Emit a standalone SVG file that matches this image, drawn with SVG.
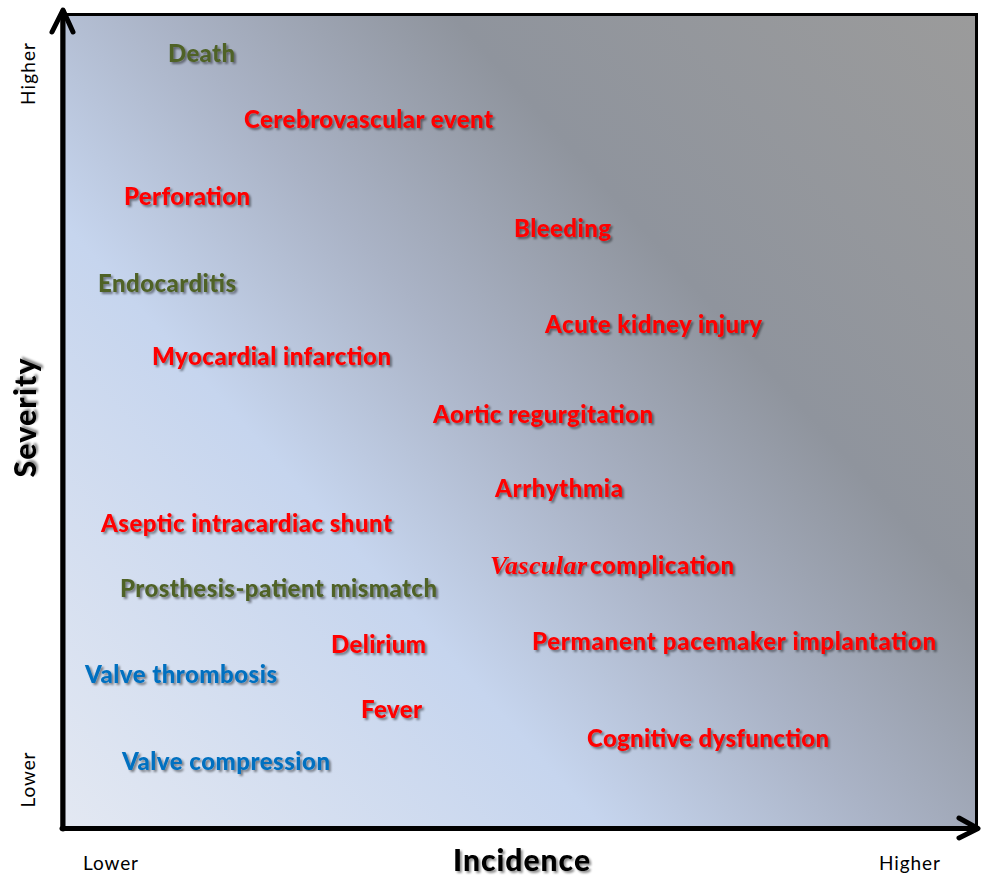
<svg xmlns="http://www.w3.org/2000/svg" width="981" height="877" viewBox="0 0 981 877">
  <defs>
    <linearGradient id="bg" gradientUnits="userSpaceOnUse" x1="62" y1="828" x2="976" y2="14">
      <stop offset="0" stop-color="#e3e8f2"/>
      <stop offset="0.33" stop-color="#c6d5ee"/>
      <stop offset="0.5" stop-color="#aab3c6"/>
      <stop offset="0.68" stop-color="#8f949d"/>
      <stop offset="1" stop-color="#9b9b9b"/>
    </linearGradient>
    <filter id="sh" x="-10%" y="-30%" width="120%" height="160%">
      <feDropShadow dx="2" dy="2" stdDeviation="1.2" flood-color="#000" flood-opacity="0.45"/>
    </filter>
  </defs>
  <style>
    .lbl { font-family: Lato, "Open Sans", "Liberation Sans", sans-serif; font-weight: 900; font-size: 24px; filter: url(#sh); }
    .red { fill: #ff0000; }
    .grn { fill: #4f6228; }
    .blu { fill: #0070c0; }
    .ax { font-family: Lato, "Open Sans", "Liberation Sans", sans-serif; font-weight: 900; font-size: 30px; fill: #000; filter: url(#sh); }
    .tick { font-family: Lato, "Open Sans", "Liberation Sans", sans-serif; font-size: 19px; fill: #000; }
    .axis { stroke: #000; stroke-width: 5; fill: none; stroke-linecap: round; stroke-linejoin: round; }
  </style>
  <rect x="62" y="14" width="914" height="814" fill="url(#bg)"/>
  <rect x="62" y="14.5" width="914.5" height="814" fill="none" stroke="#000" stroke-width="3"/>

  <g id="connectors">
    <g id="axes">
      <path class="axis" d="M63 829 V11"/>
      <path class="axis" d="M52 32 L63 10 L73 32"/>
      <path class="axis" d="M62 828.5 H977"/>
      <path class="axis" d="M959 818 L978 828.5 L959 838"/>
    </g>
  </g>

  <g id="axis-labels">
    <text class="ax" transform="translate(36,418) rotate(-90)" text-anchor="middle" textLength="119">Severity</text>
    <text class="ax" x="453" y="871" textLength="137">Incidence</text>
    <text class="tick" transform="translate(35,74) rotate(-90)" text-anchor="middle" textLength="62">Higher</text>
    <text class="tick" transform="translate(35,780) rotate(-90)" text-anchor="middle" textLength="55">Lower</text>
    <text class="tick" x="83" y="870" textLength="55">Lower</text>
    <text class="tick" x="879" y="870" textLength="61">Higher</text>
  </g>

  <g id="death"><text class="lbl grn" x="168" y="62" textLength="67">Death</text></g>
  <g id="cerebrovascular"><text class="lbl red" x="244" y="128" textLength="249">Cerebrovascular event</text></g>
  <g id="perforation"><text class="lbl red" x="124" y="205" textLength="126">Perforation</text></g>
  <g id="bleeding"><text class="lbl red" x="514" y="237" textLength="97">Bleeding</text></g>
  <g id="endocarditis"><text class="lbl grn" x="98" y="292" textLength="138">Endocarditis</text></g>
  <g id="aki"><text class="lbl red" x="545" y="333" textLength="217">Acute kidney injury</text></g>
  <g id="mi"><text class="lbl red" x="152" y="365" textLength="239">Myocardial infarction</text></g>
  <g id="ar"><text class="lbl red" x="433" y="423" textLength="220">Aortic regurgitation</text></g>
  <g id="arrhythmia"><text class="lbl red" x="495" y="497" textLength="128">Arrhythmia</text></g>
  <g id="shunt"><text class="lbl red" x="101" y="532" textLength="291">Aseptic intracardiac shunt</text></g>
  <g id="vascular">
    <text class="lbl red" x="490" y="574" textLength="97" style="font-family: 'Liberation Serif', 'DejaVu Serif', serif; font-weight: bold; font-style: italic; font-size: 26px;">Vascular</text>
    <text class="lbl red" x="590" y="574" textLength="144">complication</text>
  </g>
  <g id="ppm"><text class="lbl grn" x="120" y="597" textLength="317">Prosthesis-patient mismatch</text></g>
  <g id="delirium"><text class="lbl red" x="331" y="653" textLength="95">Delirium</text></g>
  <g id="pacemaker"><text class="lbl red" x="532" y="650" textLength="404">Permanent pacemaker implantation</text></g>
  <g id="thrombosis"><text class="lbl blu" x="85" y="683" textLength="192">Valve thrombosis</text></g>
  <g id="fever"><text class="lbl red" x="361" y="718" textLength="61">Fever</text></g>
  <g id="cognitive"><text class="lbl red" x="587" y="747" textLength="242">Cognitive dysfunction</text></g>
  <g id="compression"><text class="lbl blu" x="122" y="770" textLength="208">Valve compression</text></g>
</svg>
